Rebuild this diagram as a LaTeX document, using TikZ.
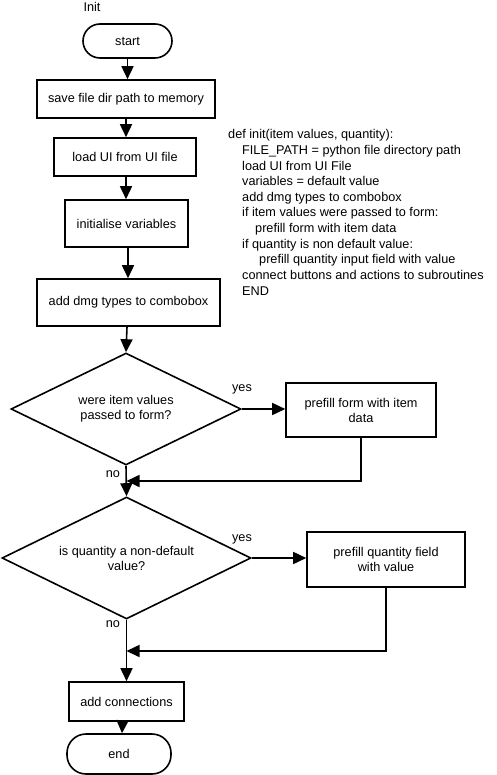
\documentclass[tikz,border=0pt]{standalone}
\usepackage{fontspec}
\setmainfont{Liberation Sans}
\usetikzlibrary{arrows.meta,shapes.geometric}
\begin{document}
\begin{tikzpicture}[x=1pt,y=-1pt,
  every node/.style={font=\fontsize{12.7}{15}\selectfont},
  box/.style={draw,line width=1.6pt,rectangle,inner sep=0pt,align=center},
  term/.style={draw,line width=1.6pt,rectangle,inner sep=0pt},
  dec/.style={draw,line width=1.6pt,diamond,aspect=2,inner sep=0pt,align=center},
  arr/.style={line width=1.6pt,-{Triangle[length=13pt,width=12pt]}},
  lbl/.style={inner sep=0pt},
  code/.style={anchor=base west,inner sep=0pt}]
\useasboundingbox (0,0) rectangle (496,775);

\node[lbl] (title) at (92,7) {Init};

\node[term,rounded corners=17pt,minimum width=89pt,minimum height=34pt] (start) at (127.5,41) {start};
\node[box,minimum width=178pt,minimum height=38pt] (save) at (126,99) {save file dir path to memory};
\node[box,minimum width=142pt,minimum height=38pt] (load) at (125,157) {load UI from UI file};
\node[box,minimum width=123pt,minimum height=47pt] (init) at (126.5,223.5) {initialise variables};
\node[box,minimum width=183pt,minimum height=47pt] (dmg) at (128.5,302.5) {add dmg types to combobox};

\node[dec,minimum width=230pt,minimum height=112pt] (d1) at (126,409) {were item values\\passed to form?};
\node[box,minimum width=150pt,minimum height=54pt] (p1) at (361,410) {prefill form with item\\data};

\node[dec,minimum width=249pt,minimum height=122pt] (d2) at (126.5,558) {is quantity a non-default\\value?};
\node[box,minimum width=158pt,minimum height=55pt] (p2) at (386,559.5) {prefill quantity field\\with value};

\node[box,minimum width=115pt,minimum height=39pt] (conn) at (126.5,701.5) {add connections};
\node[term,rounded corners=19pt,minimum width=104pt,minimum height=40pt] (end) at (119,754) {end};

\node[lbl] (yes1) at (242,389) {yes};
\node[lbl] (no1) at (113,474) {no};
\node[lbl] (yes2) at (242,539) {yes};
\node[lbl] (no2) at (113,624) {no};

\coordinate (m1) at (126.5,481);
\coordinate (m2) at (126.5,651);

\draw[arr] (start.south) -- (start.south |- save.north);
\draw[arr] (save.south) -- (save.south |- load.north);
\draw[arr] ([xshift=1pt]load.south) -- ([xshift=1pt]load.south |- init.north);
\draw[arr] ([xshift=1.5pt]init.south) -- ([xshift=1.5pt]init.south |- dmg.north);
\draw[arr] ([xshift=-1.5pt]dmg.south) -- (d1.north);
\draw[arr] (d1.east) -- (d1.east -| p1.west);
\draw[arr] (p1.south) |- (m1);
\draw[arr] (d1.south) -- (d2.north);
\draw[arr] (d2.east) -- (d2.east -| p2.west);
\draw[arr] (p2.south) |- (m2);
\draw[arr] (d2.south) -- (conn.north);
\draw[arr] ([xshift=-4pt]conn.south) -- ([xshift=3pt]end.north);

\node[code] (c1) at (228,139) {def init(item values, quantity):};
\node[code] (c2) at (242,154.6) {FILE\_PATH = python file directory path};
\node[code] (c3) at (242,170.2) {load UI from UI File};
\node[code] (c4) at (242,185.8) {variables = default value};
\node[code] (c5) at (242,201.4) {add dmg types to combobox};
\node[code] (c6) at (242,217) {if item values were passed to form:};
\node[code] (c7) at (255,232.6) {prefill form with item data};
\node[code] (c8) at (242,248.2) {if quantity is non default value:};
\node[code] (c9) at (259,263.8) {prefill quantity input field with value};
\node[code] (c10) at (242,279.4) {connect buttons and actions to subroutines};
\node[code] (c11) at (242,295) {END};
\end{tikzpicture}
\end{document}
